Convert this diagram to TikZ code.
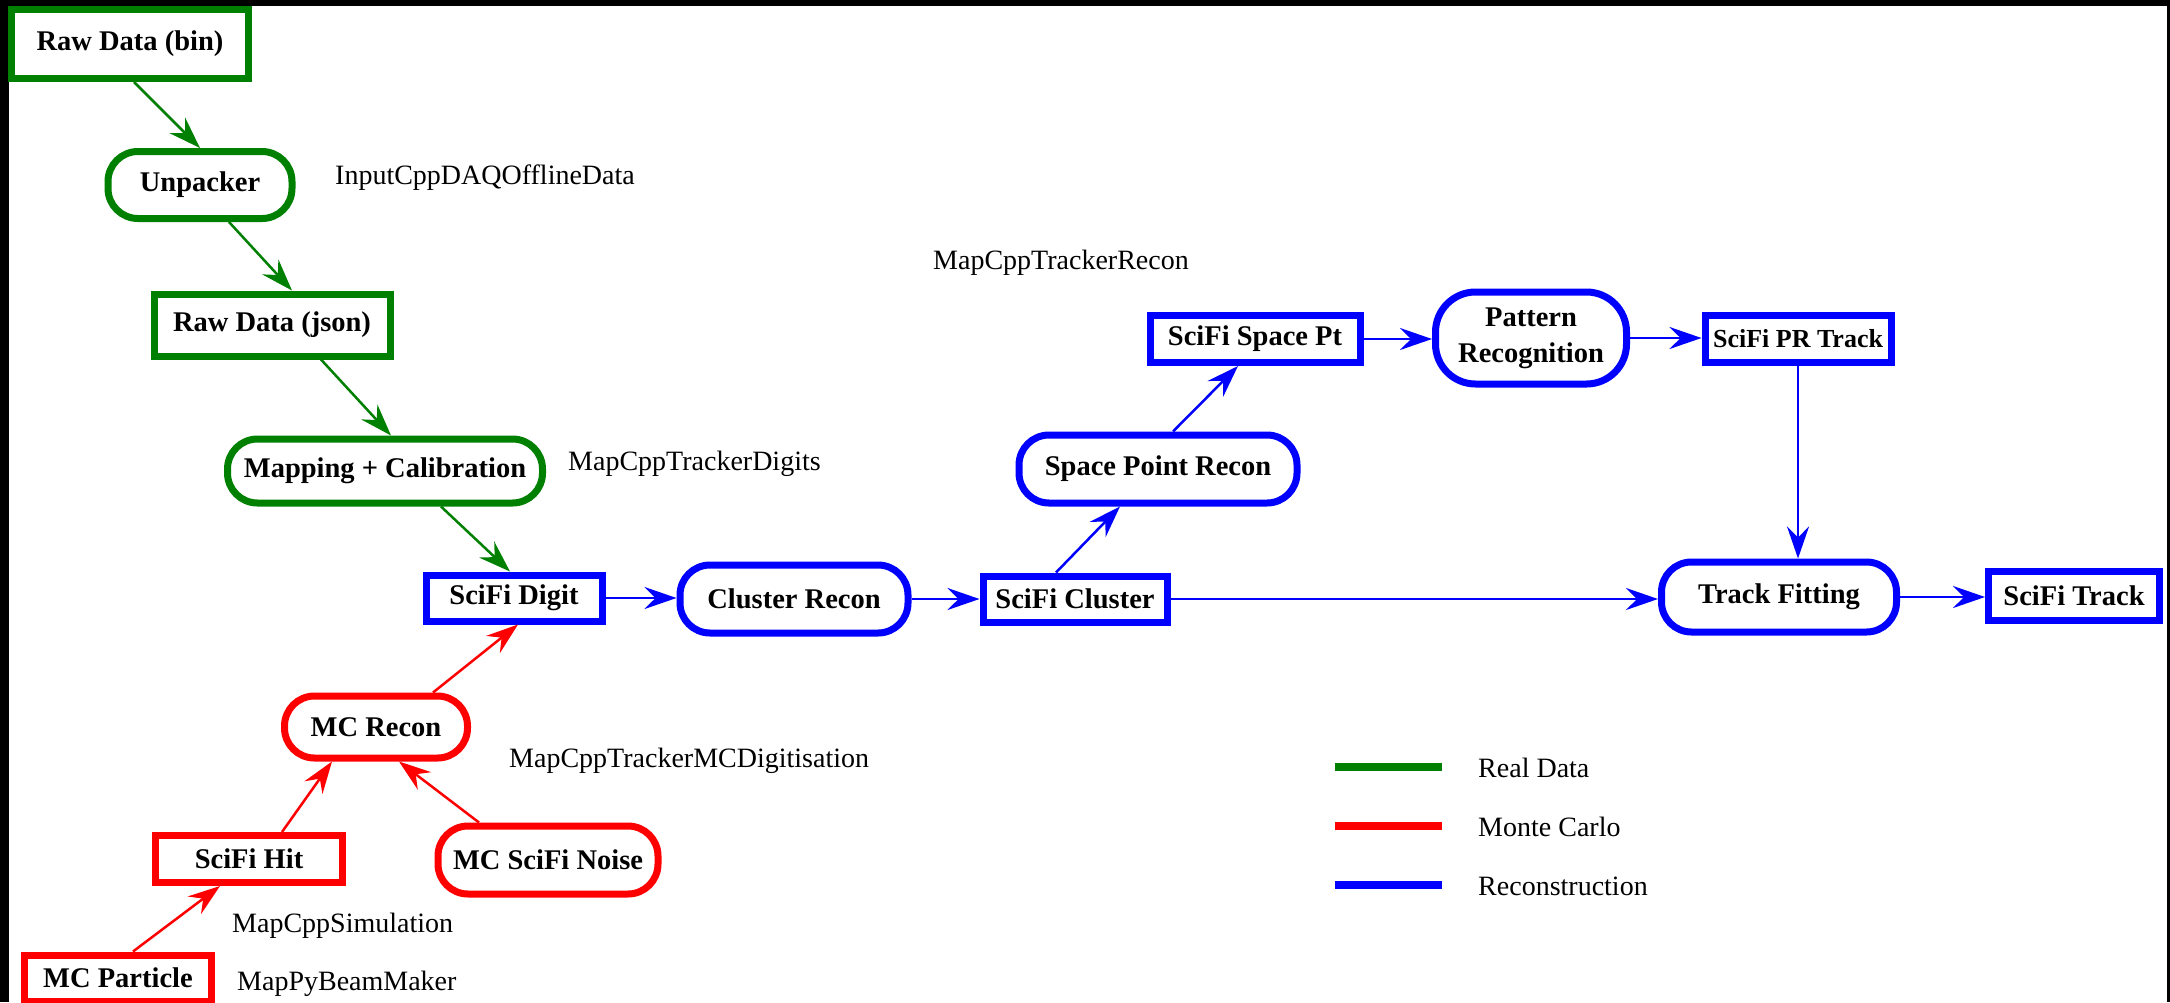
\documentclass[tikz,border=0pt]{standalone}
\usepackage{fontspec}
\setmainfont{Liberation Serif}
\usetikzlibrary{arrows.meta}
\definecolor{dgreen}{RGB}{0,128,0}
\definecolor{dred}{RGB}{255,0,0}
\definecolor{dblue}{RGB}{0,0,255}
\tikzset{
  databox/.style={draw, line width=7pt, inner sep=0pt, fill=white,
    font=\fontsize{28.5pt}{36pt}\selectfont\bfseries, align=center},
  procbox/.style={databox, rounded corners=30pt},
  lbl/.style={anchor=base west, inner sep=0pt, font=\fontsize{28pt}{34pt}\selectfont},
  conn/.style={line width=2.5pt, -{Stealth[length=32pt,width=22pt,inset=11pt]}},
  legline/.style={line width=8pt}
}
\begin{document}
\begin{tikzpicture}[x=1pt,y=-1pt]
\useasboundingbox (0,0) rectangle (2170,1002);
\fill[black] (0,0) rectangle (2170,1002);
\fill[white] (9,6) rectangle (2167,1002);

% Real data chain
\node[databox, draw=dgreen, minimum width=237pt, minimum height=69pt] (rawbin) at (130,44) {Raw Data (bin)};
\node[procbox, draw=dgreen, minimum width=184pt, minimum height=67pt] (unpacker) at (200,185) {Unpacker};
\node[databox, draw=dgreen, minimum width=236pt, minimum height=62pt] (rawjson) at (272,325) {Raw Data (json)};
\node[procbox, draw=dgreen, minimum width=315pt, minimum height=64pt] (mapping) at (385,471) {Mapping + Calibration};

% Reconstruction chain
\node[databox, draw=dblue, minimum width=176pt, minimum height=46pt] (digit) at (514,598) {SciFi Digit};
\node[procbox, draw=dblue, minimum width=228pt, minimum height=68pt] (cluster) at (794,599) {Cluster Recon};
\node[databox, draw=dblue, minimum width=184pt, minimum height=46pt] (scificluster) at (1075,599) {SciFi Cluster};
\node[procbox, draw=dblue, minimum width=278pt, minimum height=68pt] (spr) at (1158,469) {Space Point Recon};
\node[databox, draw=dblue, minimum width=210pt, minimum height=47pt] (spacept) at (1255,339) {SciFi Space Pt};
\node[procbox, draw=dblue, rounded corners=40pt, minimum width=191pt, minimum height=92pt] (pattern) at (1531,338) {Pattern\\Recognition};
\node[databox, draw=dblue, minimum width=186pt, minimum height=47pt, font=\fontsize{26pt}{32pt}\selectfont\bfseries] (prtrack) at (1798,339) {SciFi PR Track};
\node[procbox, draw=dblue, minimum width=235pt, minimum height=70pt] (trackfit) at (1779,597) {Track Fitting};
\node[databox, draw=dblue, minimum width=171pt, minimum height=49pt] (scifitrack) at (2074,596) {SciFi Track};

% Monte Carlo chain
\node[procbox, draw=dred, minimum width=183pt, minimum height=62pt] (mcrecon) at (376,727) {MC Recon};
\node[databox, draw=dred, minimum width=187pt, minimum height=47pt] (scifihit) at (249,859) {SciFi Hit};
\node[procbox, draw=dred, minimum width=220pt, minimum height=68pt] (noise) at (548,860) {MC SciFi Noise};
\node[databox, draw=dred, minimum width=187pt, minimum height=46pt] (mcparticle) at (118,978) {MC Particle};

% Labels
\node[lbl] (lInput) at (335,184) {InputCppDAQOfflineData};
\node[lbl] (lDigits) at (568,470) {MapCppTrackerDigits};
\node[lbl] (lRecon) at (933,269) {MapCppTrackerRecon};
\node[lbl] (lMCDig) at (509,767) {MapCppTrackerMCDigitisation};
\node[lbl] (lSim) at (232,932) {MapCppSimulation};
\node[lbl] (lBeam) at (237,990) {MapPyBeamMaker};

% Connectors
\draw[conn, dgreen] ([xshift=4pt]rawbin.south) -- (unpacker.north);
\draw[conn, dgreen] ([xshift=29pt]unpacker.south) -- ([xshift=20pt]rawjson.north);
\draw[conn, dgreen] ([xshift=49pt]rawjson.south) -- ([xshift=6pt]mapping.north);
\draw[conn, dgreen] ([xshift=56pt]mapping.south) -- ([xshift=-4pt]digit.north);

\draw[conn, dred] ([xshift=57pt]mcrecon.north) -- ([xshift=4pt]digit.south);
\draw[conn, dred] ([xshift=33pt]scifihit.north) -- ([xshift=-44pt]mcrecon.south);
\draw[conn, dred] ([xshift=-69pt]noise.north) -- ([xshift=23pt]mcrecon.south);
\draw[conn, dred] ([xshift=15pt]mcparticle.north) -- ([xshift=-29pt]scifihit.south);

\draw[conn, dblue] (digit.east) -- (digit.east -| cluster.west);
\draw[conn, dblue] (cluster.east) -- (cluster.east -| scificluster.west);
\draw[conn, dblue] ([xshift=-19pt]scificluster.north) -- ([xshift=-38pt]spr.south);
\draw[conn, dblue] ([xshift=15pt]spr.north) -- ([xshift=-17pt]spacept.south);
\draw[conn, dblue] (spacept.east) -- (spacept.east -| pattern.west);
\draw[conn, dblue] (pattern.east) -- (pattern.east -| prtrack.west);
\draw[conn, dblue] (prtrack.south) -- (prtrack.south |- trackfit.north);
\draw[conn, dblue] (scificluster.east) -- (scificluster.east -| trackfit.west);
\draw[conn, dblue] (trackfit.east) -- (trackfit.east -| scifitrack.west);

% Legend
\draw[legline, dgreen] (1335,767) -- (1442,767);
\draw[legline, dred] (1335,826) -- (1442,826);
\draw[legline, dblue] (1335,885) -- (1442,885);
\node[lbl] (legReal) at (1478,777) {Real Data};
\node[lbl] (legMC) at (1478,836) {Monte Carlo};
\node[lbl] (legReco) at (1478,895) {Reconstruction};
\end{tikzpicture}
\end{document}
